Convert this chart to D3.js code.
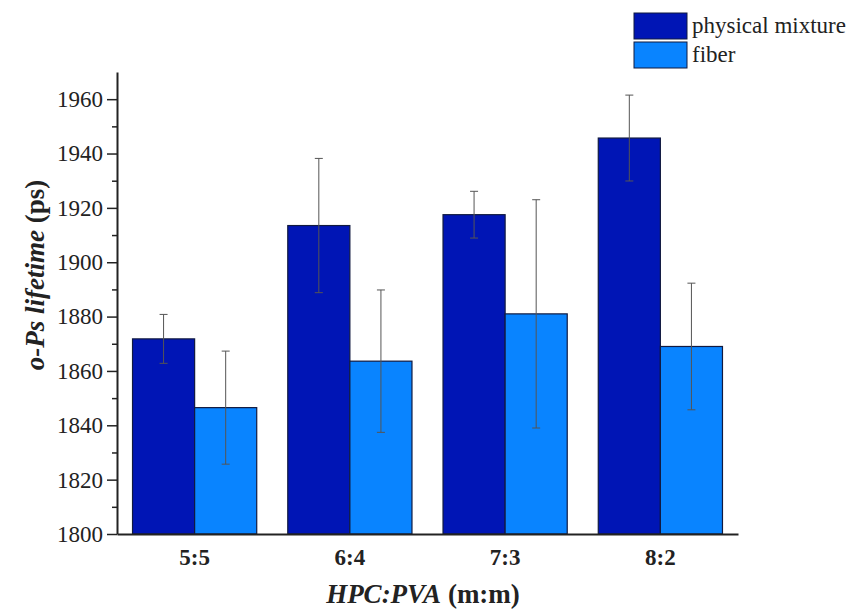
<!DOCTYPE html>
<html>
<head>
<meta charset="utf-8">
<script src="https://cdn.jsdelivr.net/npm/d3@7"></script>
<style>
  body { margin: 0; background: #fff; }
  svg text { font-family: "Liberation Serif", "Times New Roman", serif; }
</style>
</head>
<body>
<svg id="canvas" width="856" height="611"></svg>
<script>
let categories = ['5:5', '6:4', '7:3', '8:2']
let seriesNames = ['physical mixture', 'fiber']
let mixtureValues = [1871.8, 1913.5, 1917.5, 1945.7]
let mixtureErrors = [9.0, 24.7, 8.6, 15.8]
let fiberValues = [1846.5, 1863.6, 1881.0, 1869.0]
let fiberErrors = [20.8, 26.2, 42.0, 23.3]
let yTicks = [1800, 1820, 1840, 1860, 1880, 1900, 1920, 1940, 1960]
let colors = ['#0015b5', '#0984ff']

let canvas = d3.select('#canvas')

let plotLeft = 117, plotRight = 738, plotTop = 72, plotBottom = 534
let serif = '"Liberation Serif", "Times New Roman", serif'

let xScale = d3.scaleBand()
  .domain(categories)
  .range([plotLeft, plotRight])
  .paddingInner(0.2)
  .paddingOuter(0.1)

let subScale = d3.scaleBand()
  .domain(seriesNames)
  .range([0, xScale.bandwidth()])

let yScale = d3.scaleLinear()
  .domain([1800, 1970])
  .range([plotBottom, plotTop])

let rows = []
categories.forEach((cat, i) => {
  rows.push({ cat: cat, series: seriesNames[0], value: mixtureValues[i], err: mixtureErrors[i] })
  rows.push({ cat: cat, series: seriesNames[1], value: fiberValues[i], err: fiberErrors[i] })
})
let color = d3.scaleOrdinal().domain(seriesNames).range(colors)

// bars
canvas.selectAll('rect.bar')
  .data(rows)
  .enter()
  .append('rect')
  .attr('class', 'bar')
  .attr('x', d => xScale(d.cat) + subScale(d.series))
  .attr('y', d => yScale(d.value))
  .attr('width', subScale.bandwidth())
  .attr('height', d => yScale(1800) - yScale(d.value))
  .attr('fill', d => color(d.series))
  .attr('stroke', '#111a40')
  .attr('stroke-width', 1.2)

// error bars
let errs = canvas.selectAll('g.err')
  .data(rows)
  .enter()
  .append('g')
  .attr('class', 'err')
  .attr('stroke', '#555')
  .attr('stroke-width', 1)
let cx = d => xScale(d.cat) + subScale(d.series) + subScale.bandwidth() / 2
errs.append('line')
  .attr('x1', cx).attr('x2', cx)
  .attr('y1', d => yScale(d.value + d.err))
  .attr('y2', d => yScale(d.value - d.err))
errs.append('line')
  .attr('x1', d => cx(d) - 4).attr('x2', d => cx(d) + 4)
  .attr('y1', d => yScale(d.value + d.err))
  .attr('y2', d => yScale(d.value + d.err))
errs.append('line')
  .attr('x1', d => cx(d) - 4).attr('x2', d => cx(d) + 4)
  .attr('y1', d => yScale(d.value - d.err))
  .attr('y2', d => yScale(d.value - d.err))

// y axis: minor ticks then major ticks
let minorTicks = d3.range(1810, 1970, 20)
canvas.append('g')
  .attr('transform', `translate(${plotLeft},0)`)
  .call(d3.axisLeft(yScale).tickValues(minorTicks).tickSize(5).tickFormat(''))
  .call(g => g.select('.domain').remove())
  .selectAll('line').attr('stroke', '#222').attr('stroke-width', 1.5)

let yAxis = canvas.append('g')
  .attr('transform', `translate(${plotLeft},0)`)
  .call(d3.axisLeft(yScale).tickValues(yTicks).tickFormat(d3.format('d'))
    .tickSize(10).tickPadding(4).tickSizeOuter(0))
yAxis.select('.domain').attr('stroke', '#222').attr('stroke-width', 2)
yAxis.selectAll('line').attr('stroke', '#222').attr('stroke-width', 1.5)
yAxis.selectAll('text')
  .attr('font-family', serif)
  .attr('font-size', 23)
  .attr('fill', '#222')

// x axis
let xAxis = canvas.append('g')
  .attr('transform', `translate(0,${plotBottom})`)
  .call(d3.axisBottom(xScale).tickSize(0).tickPadding(15).tickSizeOuter(0))
xAxis.select('.domain').attr('stroke', '#222').attr('stroke-width', 2)
xAxis.selectAll('text')
  .attr('font-family', serif)
  .attr('font-size', 23)
  .attr('font-weight', 'bold')
  .attr('fill', '#222')

// axis titles
let xTitle = canvas.append('text')
  .attr('x', 423)
  .attr('y', 603)
  .attr('text-anchor', 'middle')
  .attr('font-size', 27)
  .attr('font-weight', 'bold')
  .attr('fill', '#222')
xTitle.append('tspan').attr('font-style', 'italic').text('HPC:PVA')
xTitle.append('tspan').text(' (m:m)')

let yTitle = canvas.append('text')
  .attr('transform', 'translate(44,275) rotate(-90)')
  .attr('text-anchor', 'middle')
  .attr('font-size', 27)
  .attr('font-weight', 'bold')
  .attr('fill', '#222')
yTitle.append('tspan').attr('font-style', 'italic').text('o-Ps lifetime')
yTitle.append('tspan').text(' (ps)')

// legend
let legend = canvas.selectAll('g.legend')
  .data(seriesNames)
  .enter()
  .append('g')
  .attr('class', 'legend')
  .attr('transform', (d, i) => `translate(634,${13 + i * 29})`)
legend.append('rect')
  .attr('width', 53)
  .attr('height', 26)
  .attr('fill', d => color(d))
  .attr('stroke', '#111a40')
  .attr('stroke-width', 1)
legend.append('text')
  .attr('x', 58)
  .attr('y', 20)
  .attr('font-size', 23)
  .attr('fill', '#222')
  .text(d => d)
</script>
</body>
</html>
